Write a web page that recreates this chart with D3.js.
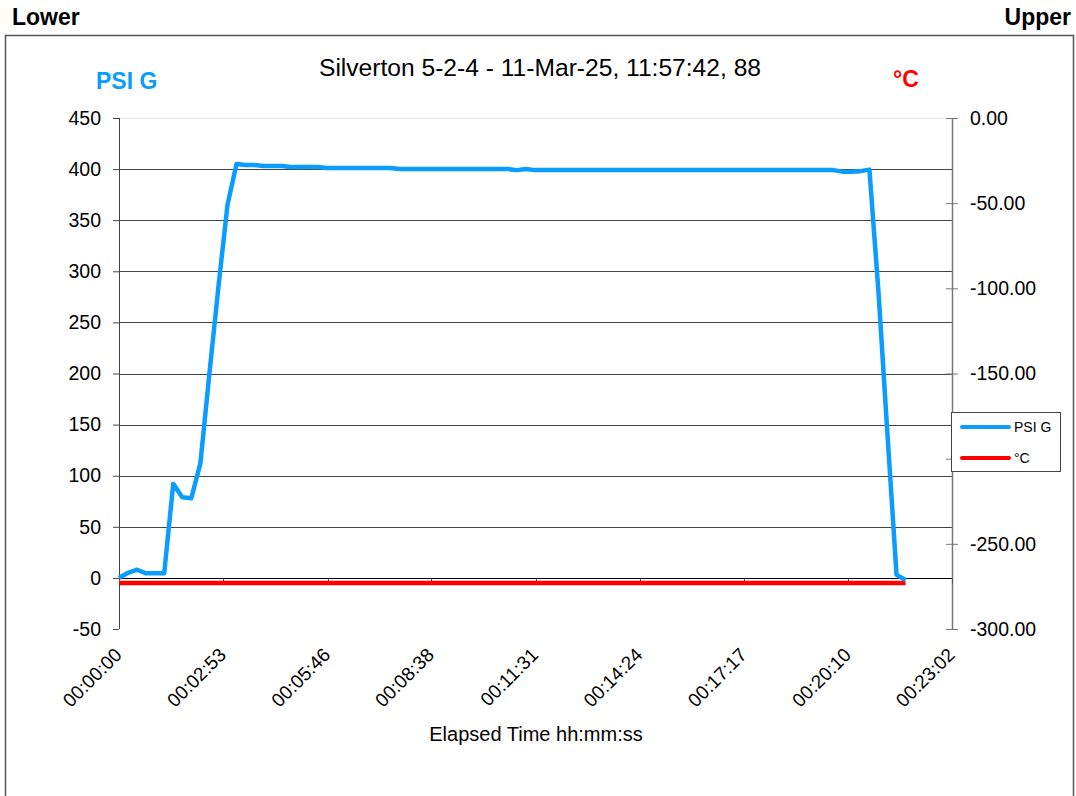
<!DOCTYPE html>
<html>
<head>
<meta charset="utf-8">
<script src="https://cdn.jsdelivr.net/npm/d3@7/dist/d3.min.js"></script>
<style>
  html, body { margin: 0; padding: 0; background: #fff; }
  svg { display: block; font-family: "Liberation Sans", Arial, sans-serif; }
</style>
</head>
<body>
<svg id="chart" width="1076" height="796"></svg>
<script>
// ---- data ----
const titleText = "Silverton 5-2-4 - 11-Mar-25, 11:57:42, 88";
const sampleSeconds = 15;
const psiValues = [
  0, 5, 8, 4.5, 4.5, 4.5, 92, 79, 78, 112,
  200, 285, 365, 405, 404, 404, 403, 403, 403, 402,
  402, 402, 402, 401, 401, 401, 401, 401, 401, 401,
  401, 400, 400, 400, 400, 400, 400, 400, 400, 400,
  400, 400, 400, 400, 399, 400, 399, 399, 399, 399,
  399, 399, 399, 399, 399, 399, 399, 399, 399, 399,
  399, 399, 399, 399, 399, 399, 399, 399, 399, 399,
  399, 399, 399, 399, 399, 399, 399, 399, 399, 399,
  397.5, 397.5, 398, 399.5, 280, 140, 3, -2
];
const tempValues = [
  -273, -273, -273, -273, -273, -273, -273, -273, -273, -273,
  -273, -273, -273, -273, -273, -273, -273, -273, -273, -273,
  -273, -273, -273, -273, -273, -273, -273, -273, -273, -273,
  -273, -273, -273, -273, -273, -273, -273, -273, -273, -273,
  -273, -273, -273, -273, -273, -273, -273, -273, -273, -273,
  -273, -273, -273, -273, -273, -273, -273, -273, -273, -273,
  -273, -273, -273, -273, -273, -273, -273, -273, -273, -273,
  -273, -273, -273, -273, -273, -273, -273, -273, -273, -273,
  -273, -273, -273, -273, -273, -273, -273, -273
];
const xTickLabels = ["00:00:00","00:02:53","00:05:46","00:08:38","00:11:31","00:14:24","00:17:17","00:20:10","00:23:02"];
const leftTicks = [450, 400, 350, 300, 250, 200, 150, 100, 50, 0, -50];
const rightTicks = [0, -50, -100, -150, -200, -250, -300];
const seriesNames = ["PSI G", "°C"];

// ---- layout ----
const blue = "#0a9cff", red = "#ff0000";
const L = 119, R = 952, T = 118, B = 629;
const legendBox = { x: 951.5, y: 412.5, w: 109, h: 59 };
const svg = d3.select("#chart");

const toSec = s => { const p = s.split(":").map(Number); return p[0]*3600 + p[1]*60 + p[2]; };
const xMax = toSec(xTickLabels[xTickLabels.length - 1]);

const x = d3.scaleLinear().domain([0, xMax]).range([L, R]);
const yL = d3.scaleLinear().domain([-50, 450]).range([B, T]);
const yR = d3.scaleLinear().domain([-300, 0]).range([B, T]);

// outer frame
svg.append("path").attr("d", `M5.5,800 V35.5 H1073.5 V800`).attr("fill", "none")
  .attr("stroke", "#555").attr("stroke-width", 1.5);

// corner labels
svg.append("text").attr("x", 12).attr("y", 25).attr("font-size", 23).attr("font-weight", "bold").text("Lower");
svg.append("text").attr("x", 1071).attr("y", 25).attr("font-size", 23).attr("font-weight", "bold")
  .attr("text-anchor", "end").text("Upper");

// title & axis titles
svg.append("text").attr("x", 540).attr("y", 76).attr("font-size", 24.6).attr("text-anchor", "middle").text(titleText);
svg.append("text").attr("x", 96).attr("y", 89).attr("font-size", 23).attr("font-weight", "bold")
  .attr("fill", blue).text(seriesNames[0]);
svg.append("text").attr("x", 893).attr("y", 87).attr("font-size", 23).attr("font-weight", "bold")
  .attr("fill", red).text(seriesNames[1]);

// gridlines
svg.append("g").selectAll("line").data(leftTicks.filter(v => v > 0)).join("line")
  .attr("x1", L).attr("x2", R).attr("y1", d => Math.round(yL(d)) + 0.5).attr("y2", d => Math.round(yL(d)) + 0.5)
  .attr("stroke", d => d === 450 ? "#e4e4e4" : "#444").attr("stroke-width", 1);

// left axis
const gL = svg.append("g").attr("transform", `translate(${L},0)`)
  .call(d3.axisLeft(yL).tickValues(leftTicks).tickSize(6).tickPadding(12).tickFormat(d => String(d)));
gL.select(".domain").remove();
gL.selectAll(".tick line").attr("stroke", "#444");
gL.selectAll("text").attr("font-size", 19.5).attr("fill", "#000").attr("font-family", "Liberation Sans, Arial");
svg.append("line").attr("x1", L + 0.5).attr("x2", L + 0.5).attr("y1", T).attr("y2", B).attr("stroke", "#444");

// right axis (labels hidden behind the legend box are not drawn, as in the reference)
const gR = svg.append("g").attr("transform", `translate(${R},0)`)
  .call(d3.axisRight(yR).tickValues(rightTicks).tickSize(6).tickPadding(12).tickFormat(d => d.toFixed(2)));
gR.select(".domain").remove();
gR.selectAll(".tick line").attr("x1", -6).attr("stroke", "#777");
gR.selectAll("text").attr("font-size", 19.5).attr("fill", "#000").attr("x", 18).attr("font-family", "Liberation Sans, Arial");
gR.selectAll(".tick").filter(d => yR(d) > legendBox.y && yR(d) < legendBox.y + legendBox.h)
  .select("text").remove();
svg.append("line").attr("x1", R + 0.5).attr("x2", R + 0.5).attr("y1", T).attr("y2", B).attr("stroke", "#777").attr("stroke-width", 1.5);

// x axis at zero
const y0 = Math.round(yL(0)) + 0.5;
svg.append("line").attr("x1", L).attr("x2", R).attr("y1", y0).attr("y2", y0).attr("stroke", "#000");
svg.append("g").selectAll("line").data(xTickLabels).join("line")
  .attr("x1", d => Math.round(x(toSec(d))) + 0.5).attr("x2", d => Math.round(x(toSec(d))) + 0.5)
  .attr("y1", y0).attr("y2", y0 + 5).attr("stroke", "#555");
svg.append("g").selectAll("text").data(xTickLabels).join("text")
  .attr("transform", d => `translate(${x(toSec(d)) + 4},${656}) rotate(-45)`)
  .attr("text-anchor", "end").attr("font-size", 19).text(d => d);
svg.append("text").attr("x", 536).attr("y", 741).attr("text-anchor", "middle").attr("font-size", 20)
  .text("Elapsed Time hh:mm:ss");

// series
const lineL = d3.line().x((d, i) => x(i * sampleSeconds)).y(d => yL(d));
const lineR = d3.line().x((d, i) => x(i * sampleSeconds)).y(d => yR(d));
svg.append("path").datum(tempValues).attr("d", lineR).attr("fill", "none").attr("stroke", red)
  .attr("stroke-width", 4.5).attr("stroke-linejoin", "round");
svg.append("path").datum(psiValues).attr("d", lineL).attr("fill", "none").attr("stroke", blue)
  .attr("stroke-width", 4.5).attr("stroke-linejoin", "round");

// legend
const lg = svg.append("g");
lg.append("rect").attr("x", legendBox.x).attr("y", legendBox.y).attr("width", legendBox.w).attr("height", legendBox.h)
  .attr("fill", "#fff").attr("stroke", "#444");
[blue, red].forEach((c, i) => {
  const yy = 427 + i * 31;
  lg.append("line").attr("x1", 962).attr("x2", 1009).attr("y1", yy).attr("y2", yy)
    .attr("stroke", c).attr("stroke-width", 4).attr("stroke-linecap", "round");
  lg.append("text").attr("x", 1014).attr("y", yy + 5).attr("font-size", 14).text(seriesNames[i]);
});
</script>
</body>
</html>
